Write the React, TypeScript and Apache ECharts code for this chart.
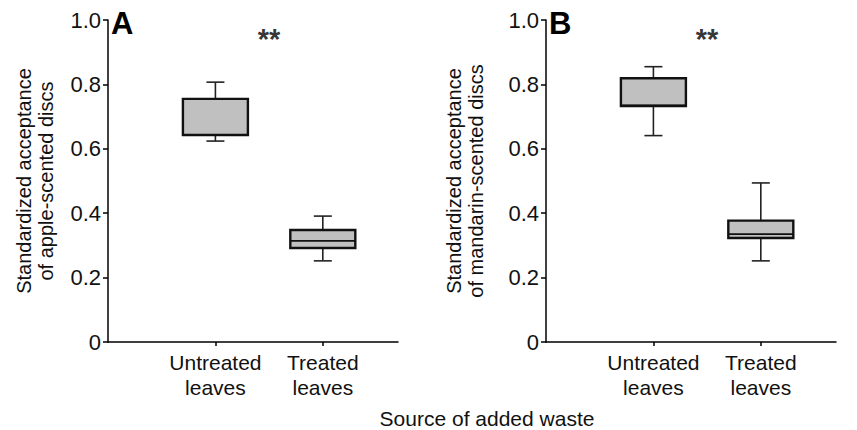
import React, { useEffect, useRef } from "react";
import * as echarts from "echarts";

// ---- data ----
const categories = ["Untreated\nleaves", "Treated\nleaves"];
const categoryPos = [1, 2];
// [low whisker, Q1, median, Q3, high whisker]
const appleUntreated = [0.624, 0.643, 0.643, 0.755, 0.807];
const appleTreated = [0.252, 0.292, 0.314, 0.348, 0.391];
const mandarinUntreated = [0.641, 0.733, 0.735, 0.819, 0.855];
const mandarinTreated = [0.252, 0.323, 0.335, 0.377, 0.494];
const sigLabel = "**";
const sigPos = [1.5, 0.94];
const panelLetters = ["A", "B"];
const yNames = [
  "Standardized acceptance\nof apple-scented discs",
  "Standardized acceptance\nof mandarin-scented discs",
];
const xTitle = "Source of added waste";

const FONT = "Liberation Sans, Arial, Helvetica, sans-serif";

export default function App() {
  const ref = useRef<HTMLDivElement>(null);
  useEffect(() => {
    if (!ref.current) return;
    const chart = echarts.init(ref.current, undefined, { renderer: "svg" });

    const boxData = (stats: number[][]) =>
      stats.map((s, i) => [categoryPos[i], ...s]);

    const renderBox = (params: any, api: any) => {
      const x = api.value(0);
      const lo = api.coord([x, api.value(1)]);
      const q1 = api.coord([x, api.value(2)]);
      const med = api.coord([x, api.value(3)]);
      const q3 = api.coord([x, api.value(4)]);
      const hi = api.coord([x, api.value(5)]);
      const cx = lo[0];
      const hw = 32.5;
      const cap = 9;
      const wStyle = { stroke: "#222", lineWidth: 1.6 };
      return {
        type: "group",
        children: [
          { type: "line", shape: { x1: cx, y1: hi[1], x2: cx, y2: q3[1] }, style: wStyle },
          { type: "line", shape: { x1: cx, y1: q1[1], x2: cx, y2: lo[1] }, style: wStyle },
          { type: "line", shape: { x1: cx - cap, y1: hi[1], x2: cx + cap, y2: hi[1] }, style: wStyle },
          { type: "line", shape: { x1: cx - cap, y1: lo[1], x2: cx + cap, y2: lo[1] }, style: wStyle },
          {
            type: "rect",
            shape: { x: cx - hw, y: q3[1], width: hw * 2, height: q1[1] - q3[1] },
            style: { fill: "#c0c0c0", stroke: "#111", lineWidth: 2.4 },
          },
          { type: "line", shape: { x1: cx - hw, y1: med[1], x2: cx + hw, y2: med[1] }, style: { stroke: "#111", lineWidth: 1.8 } },
        ],
      };
    };

    const lefts = [108, 546];
    const nameGaps = [51, 59];
    const grids = lefts.map((l) => ({ left: l, top: 20, width: 290, height: 322 }));

    const xAxes = lefts.map((_, i) => ({
      type: "value",
      gridIndex: i,
      min: 0,
      max: 2.7,
      axisLine: { lineStyle: { color: "#000", width: 1.5 } },
      axisTick: { show: true, customValues: categoryPos, length: 4, lineStyle: { color: "#000", width: 1.5 } },
      axisLabel: {
        customValues: categoryPos,
        formatter: (v: number) => categories[categoryPos.indexOf(v)] ?? "",
        color: "#111",
        fontSize: 21,
        fontFamily: FONT,
        lineHeight: 25,
        margin: 8,
      },
      splitLine: { show: false },
    }));

    const yAxes = lefts.map((_, i) => ({
      type: "value",
      gridIndex: i,
      min: 0,
      max: 1,
      interval: 0.2,
      name: yNames[i],
      nameLocation: "middle",
      nameRotate: 90,
      nameGap: nameGaps[i],
      nameTextStyle: { fontSize: 20, fontFamily: FONT, color: "#111", lineHeight: 22 },
      axisLine: { show: true, lineStyle: { color: "#000", width: 1.5 } },
      axisTick: { show: true, length: 5, lineStyle: { color: "#000", width: 1.5 } },
      axisLabel: {
        formatter: (v: number) => (v === 0 ? "0" : v.toFixed(1)),
        color: "#111",
        fontSize: 22,
        fontFamily: FONT,
        margin: 7,
      },
      splitLine: { show: false },
    }));

    const panels = [
      [appleUntreated, appleTreated],
      [mandarinUntreated, mandarinTreated],
    ];

    const series: any[] = [];
    panels.forEach((stats, i) => {
      series.push({
        type: "custom",
        xAxisIndex: i,
        yAxisIndex: i,
        renderItem: renderBox,
        encode: { x: 0, y: [1, 2, 3, 4, 5] },
        data: boxData(stats),
        silent: true,
      });
      series.push({
        type: "scatter",
        xAxisIndex: i,
        yAxisIndex: i,
        symbolSize: 0,
        data: [sigPos],
        label: {
          show: true,
          position: "inside",
          formatter: sigLabel,
          fontSize: 29,
          fontWeight: "bold",
          color: "#000",
          fontFamily: FONT,
        },
        silent: true,
      });
    });

    chart.setOption({
      animation: false,
      backgroundColor: "#fff",
      grid: grids,
      xAxis: xAxes,
      yAxis: yAxes,
      series,
      graphic: [
        ...panelLetters.map((t, i) => ({
          type: "text",
          left: lefts[i] + 3,
          top: 8,
          style: { text: t, fontSize: 31, fontWeight: "bold", fontFamily: FONT, fill: "#000" },
        })),
        {
          type: "text",
          x: 487,
          y: 418,
          style: {
            text: xTitle,
            fontSize: 21,
            fontFamily: FONT,
            fill: "#111",
            textAlign: "center",
            textVerticalAlign: "middle",
          },
        },
      ],
    });
    return () => chart.dispose();
  }, []);
  return (
    <div
      ref={ref}
      style={{ position: "fixed", left: 0, top: 0, width: 857, height: 430, background: "#fff" }}
    />
  );
}
